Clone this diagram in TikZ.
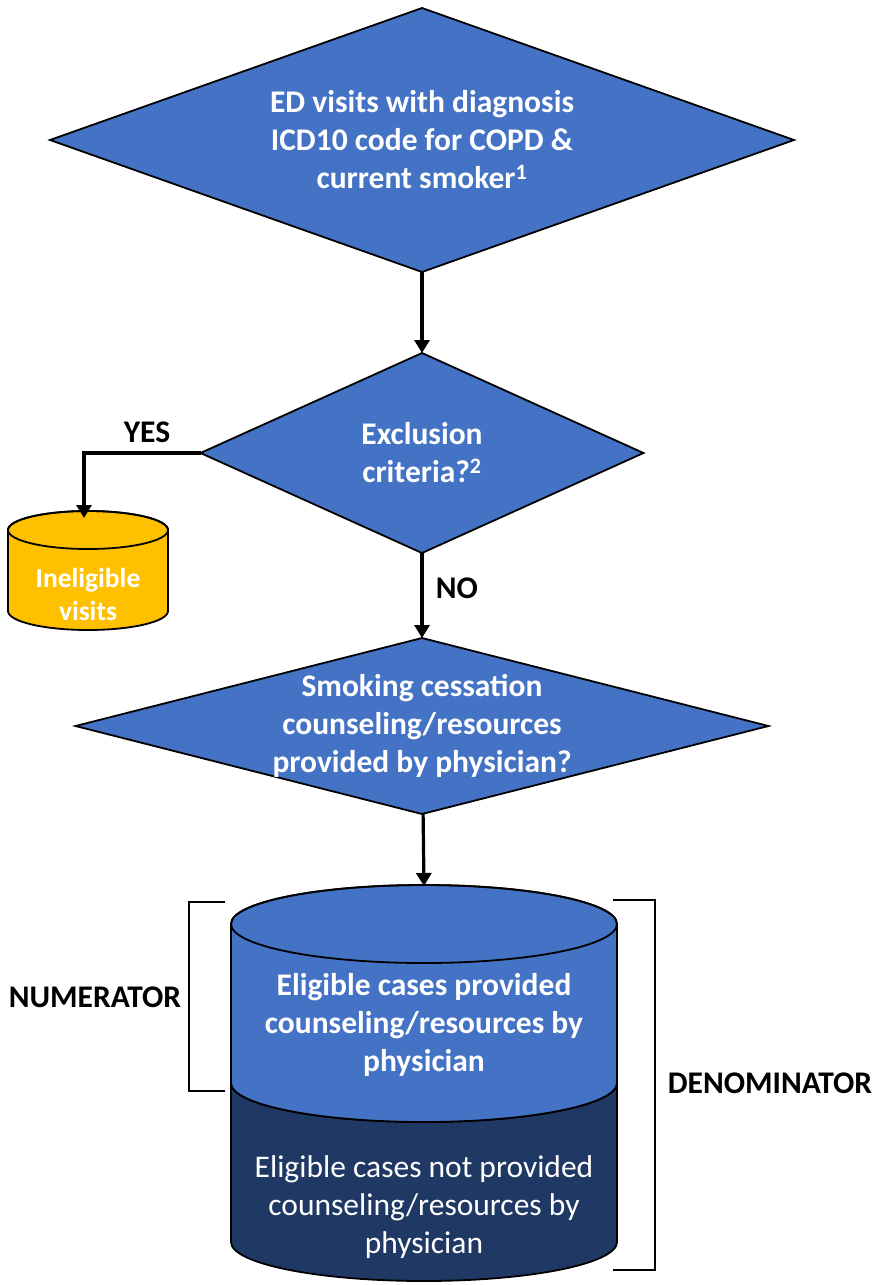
\documentclass[tikz,border=0pt]{standalone}
\usepackage{fontspec}
\setmainfont{Carlito}
\usetikzlibrary{shapes, arrows.meta, positioning}
\definecolor{boxBlue}{HTML}{4472C4}
\definecolor{boxNavy}{HTML}{203864}
\definecolor{boxGold}{HTML}{FFC000}

% drum: fill, centre x, top ellipse y, bottom ellipse y, x radius, y radius
\newcommand{\drum}[6]{%
  \filldraw[fill=#1, line width=1.8pt] (#2-#5,#3) -- (#2-#5,#4)
    arc[start angle=180, end angle=360, x radius=#5pt, y radius=#6pt]
    -- (#2+#5,#3) arc[start angle=0, end angle=180, x radius=#5pt, y radius=#6pt] -- cycle;
  \draw[line width=1.8pt] (#2,#3) ellipse[x radius=#5pt, y radius=#6pt];}

\begin{document}
\begin{tikzpicture}[x=1pt, y=-1pt,
    every node/.style={font=\fontsize{31.5}{38}\selectfont\bfseries, align=center, outer sep=0pt},
    decision/.style={diamond, draw=black, line width=1.8pt, fill=boxBlue, text=white, inner sep=-60pt},
    flow/.style={line width=3.2pt, arrows=-{Triangle[width=15pt, length=13pt]}},
    brace/.style={line width=2.8pt}]
    \useasboundingbox (0,0) rectangle (874,1285);

    \node (visits) [decision, minimum width=744pt, minimum height=264pt] at (422,140) {ED visits with diagnosis\\ICD10 code for COPD \&\\current smoker\textsuperscript{1}};
    \node (excl) [decision, below=81pt of visits, minimum width=443pt, minimum height=200pt] {Exclusion\\criteria?\textsuperscript{2}};
    \node (smoke) [decision, below=85pt of excl, minimum width=693pt, minimum height=176pt] {Smoking cessation\\counseling/resources\\provided by physician?};

    % ineligible store
    \drum{boxGold}{88}{530}{611}{80}{19}
    \coordinate (ineligTop) at (84,518);
    \node (inelig) [text=white, font=\fontsize{27.5}{33}\selectfont\bfseries] at (88,594) {Ineligible\\visits};

    % stacked store
    \drum{boxNavy}{424}{1083}{1242}{193}{39}
    \drum{boxBlue}{424}{924}{1083}{193}{39}
    \coordinate (provTop) at (424,886);
    \node (prov) [text=white] at (424,1025) {Eligible cases provided\\counseling/resources by\\physician};
    \node (notProv) [text=white, font=\fontsize{31.5}{38}\selectfont] at (424,1207) {Eligible cases not provided\\counseling/resources by\\physician};

    \node (yes) at (147,432) {YES};
    \node (no) at (457,588) {NO};
    \node (numer) at (95,997) {NUMERATOR};
    \node (denom) at (770,1083) {DENOMINATOR};

    \draw [flow] (visits) -- (excl);
    \draw [flow] (excl) -- (smoke);
    \draw [flow] (smoke) -- (provTop);
    \draw [flow] (excl.west) -| (ineligTop);

    \draw [brace] (225,902) -| (189,1091) -- (225,1091);
    \draw [brace] (613,900) -| (655,1270) -- (613,1270);
\end{tikzpicture}
\end{document}
